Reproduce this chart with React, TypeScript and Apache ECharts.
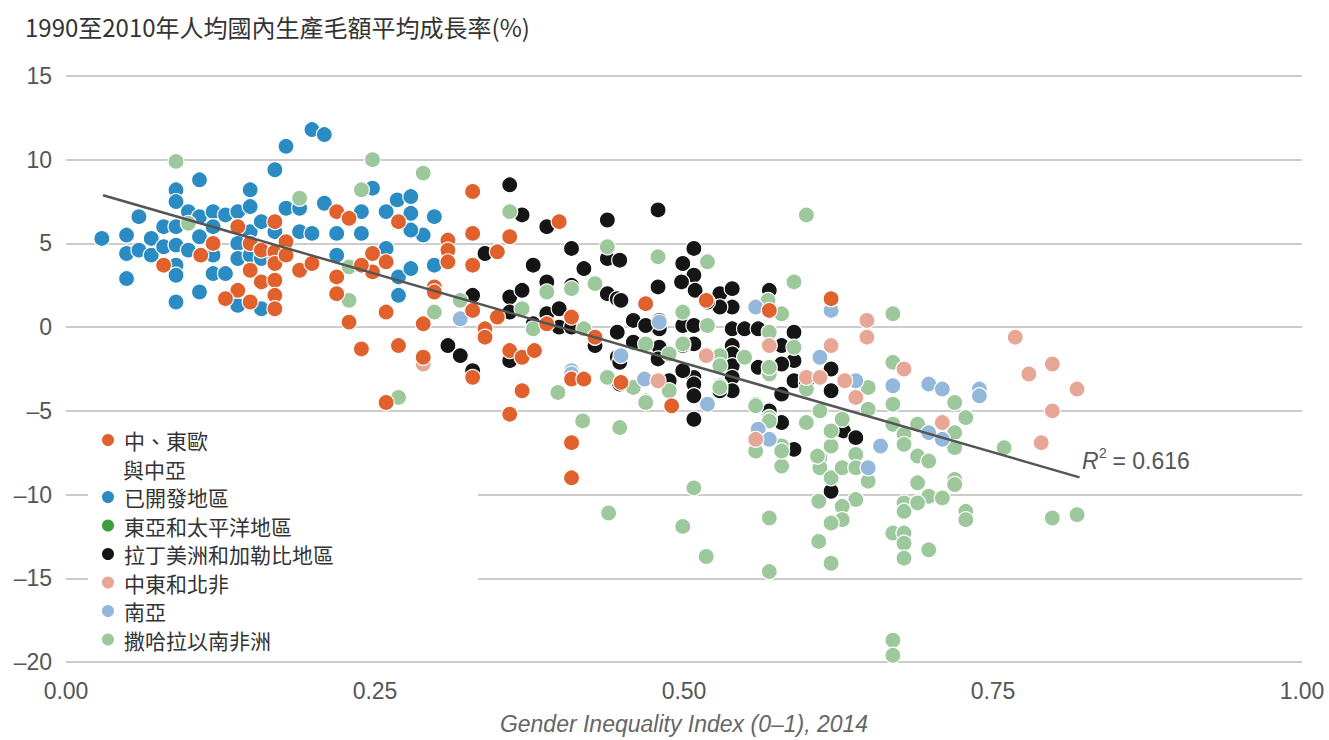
import React, { useEffect, useRef } from "react";
import * as echarts from "echarts";

const TITLE = "1990至2010年人均國內生產毛額平均成長率(%)";
const X_NAME = "Gender Inequality Index (0–1), 2014";
const R2_TEXT = " = 0.616";

const NAME_ECA = "中、東歐與中亞";
const NAME_DEV = "已開發地區";
const NAME_EAP = "東亞和太平洋地區";
const NAME_LAC = "拉丁美洲和加勒比地區";
const NAME_MENA = "中東和北非";
const NAME_SA = "南亞";
const NAME_SSA = "撒哈拉以南非洲";

const X_TICKS = [0, 0.25, 0.5, 0.75, 1];
const Y_TICKS = [-20, -15, -10, -5, 0, 5, 10, 15];

const developed = [
  [0.029, 5.3], [0.049, 5.5], [0.049, 4.4], [0.049, 2.9], [0.059, 6.6], [0.059, 4.6], [0.069, 5.3], [0.069, 4.3],
  [0.079, 6.0], [0.079, 4.8], [0.089, 8.2], [0.089, 7.5], [0.089, 6.0], [0.089, 4.9], [0.089, 3.7], [0.089, 3.1],
  [0.089, 1.5], [0.099, 6.9], [0.099, 4.6], [0.108, 8.8], [0.108, 6.6], [0.108, 5.4], [0.108, 2.1], [0.119, 6.9],
  [0.119, 6.0], [0.119, 4.3], [0.119, 3.2], [0.129, 6.7], [0.129, 3.2], [0.139, 6.9], [0.139, 5.0], [0.139, 4.1],
  [0.139, 1.3], [0.149, 8.2], [0.149, 7.2], [0.149, 5.7], [0.149, 4.3], [0.158, 6.3], [0.158, 4.1], [0.158, 1.1],
  [0.169, 9.4], [0.169, 5.7], [0.169, 4.1], [0.178, 10.8], [0.178, 7.1], [0.189, 7.1], [0.189, 5.7], [0.199, 11.8],
  [0.199, 5.6], [0.209, 11.5], [0.209, 7.4], [0.219, 5.6], [0.219, 4.3], [0.239, 6.9], [0.239, 5.6], [0.248, 8.3],
  [0.268, 7.6], [0.279, 7.8], [0.259, 6.9], [0.279, 6.8], [0.298, 6.6], [0.289, 5.5], [0.279, 5.8], [0.259, 4.7],
  [0.269, 3.0], [0.279, 3.5], [0.298, 3.7], [0.269, 1.9],
];

const eastAsiaPacific: number[][] = [];

const latinAmerica = [
  [0.359, 8.5], [0.369, 6.7], [0.389, 6.0], [0.438, 6.4], [0.479, 7.0], [0.409, 4.7], [0.339, 4.4], [0.378, 3.7],
  [0.389, 2.7], [0.419, 3.5], [0.438, 4.1], [0.448, 4.0], [0.359, 1.8], [0.369, 2.2], [0.329, 1.9], [0.389, 0.8],
  [0.399, 1.1], [0.409, 2.5], [0.359, 0.9], [0.378, 0.2], [0.399, 0.0], [0.409, 0.0], [0.309, -1.1], [0.319, -1.7],
  [0.329, -2.6], [0.359, -2.0], [0.438, 2.0], [0.446, 1.7], [0.446, -0.3], [0.446, -1.8], [0.428, -1.1],
  [0.508, 4.7], [0.499, 3.8], [0.508, 3.1], [0.479, 2.4], [0.449, 1.6], [0.529, 2.0], [0.539, 2.3], [0.539, 1.2],
  [0.529, 1.2], [0.569, 2.2], [0.459, 0.4], [0.48, 0.4], [0.48, -0.1], [0.459, -0.9], [0.48, -1.2], [0.479, -1.9],
  [0.499, 0.1], [0.508, 0.1], [0.508, -1.0], [0.499, -1.1], [0.508, -3.0], [0.508, -3.4], [0.508, -4.1], [0.488, -3.2],
  [0.499, -2.6], [0.448, -2.1], [0.448, -3.4], [0.539, -0.1], [0.539, -1.1], [0.539, -1.6], [0.539, -2.3], [0.539, -3.0],
  [0.539, -3.8], [0.529, -3.8], [0.549, -0.1], [0.56, -0.1], [0.56, -2.4], [0.589, -0.3], [0.589, -2.0], [0.579, -1.1],
  [0.579, -2.2], [0.579, -4.0], [0.589, -3.2], [0.599, -3.3], [0.619, -2.5], [0.619, -3.8], [0.569, -5.0], [0.579, -5.7],
  [0.589, -7.3], [0.508, -5.5], [0.629, -6.2], [0.639, -6.6], [0.619, -9.8], [0.469, 0.1], [0.498, 2.7], [0.509, 2.2],
  [0.519, 1.5],
];

const subSaharan = [
  [0.089, 9.9], [0.248, 10.0], [0.239, 8.2], [0.189, 7.7], [0.099, 6.2], [0.229, 3.6], [0.229, 1.6], [0.289, 9.2],
  [0.359, 6.9], [0.298, 0.9], [0.319, 1.6], [0.369, 1.1], [0.389, 2.1], [0.409, 2.3], [0.428, 2.6], [0.438, 4.8],
  [0.419, -0.1], [0.378, -0.1], [0.438, -3.0], [0.398, -3.9], [0.269, -4.2],
  [0.479, 4.2], [0.519, 3.9], [0.589, 2.7], [0.499, 0.9], [0.519, 0.1], [0.568, 1.6], [0.579, 0.8], [0.469, -1.0],
  [0.499, -1.0], [0.488, -1.6], [0.529, -1.7], [0.529, -2.3], [0.529, -3.5], [0.549, -1.8], [0.589, -1.2], [0.569, -2.8],
  [0.459, -3.6], [0.469, -4.4], [0.488, -3.8], [0.558, -4.6], [0.569, -5.4], [0.599, -3.7], [0.599, -5.7], [0.61, -5.0],
  [0.628, -5.5], [0.649, -3.6], [0.649, -4.9], [0.418, -5.6], [0.448, -6.0], [0.579, -7.1], [0.579, -8.3], [0.61, -7.8],
  [0.61, -8.4], [0.619, -7.1], [0.619, -9.0], [0.628, -8.4], [0.639, -7.6], [0.639, -8.4], [0.649, -9.2], [0.508, -9.6],
  [0.669, 0.8], [0.669, -2.1], [0.669, -4.6], [0.669, -5.8], [0.689, -5.8], [0.678, -6.4], [0.678, -7.0], [0.689, -7.7],
  [0.698, -8.0], [0.719, -4.5], [0.728, -5.4], [0.719, -6.3], [0.719, -7.2], [0.759, -7.2], [0.719, -9.1], [0.719, -9.4],
  [0.728, -11.0], [0.728, -11.5], [0.798, -11.4], [0.818, -11.2], [0.689, -9.3], [0.698, -10.1], [0.709, -10.2],
  [0.678, -10.5], [0.689, -10.5], [0.678, -11.0], [0.669, -12.3], [0.678, -12.3], [0.678, -12.9], [0.678, -13.8],
  [0.698, -13.3], [0.669, -18.7], [0.669, -19.6], [0.639, -10.3], [0.628, -10.7], [0.628, -11.5], [0.619, -11.7],
  [0.609, -10.4], [0.609, -12.8], [0.619, -14.1], [0.569, -11.4], [0.569, -14.6], [0.518, -13.7], [0.499, -11.9],
  [0.439, -11.1], [0.619, -6.2], [0.608, -7.7], [0.569, -5.6], [0.579, -7.4], [0.558, -7.4], [0.558, -4.7],
  [0.569, -2.4], [0.569, -0.3], [0.529, -3.6], [0.469, -4.5], [0.599, 6.7],
];

const southAsia = [
  [0.319, 0.5], [0.409, -2.6], [0.409, -2.8], [0.468, -3.1], [0.449, -1.7], [0.519, -4.6], [0.558, 1.2], [0.56, -6.1],
  [0.569, -6.7], [0.61, -1.8], [0.619, 1.0], [0.639, -3.2], [0.649, -8.4], [0.659, -7.1], [0.669, -3.5], [0.698, -3.4],
  [0.709, -3.7], [0.739, -3.7], [0.739, -4.1], [0.698, -6.3], [0.709, -6.7], [0.48, 0.3],
];

const middleEast = [
  [0.289, -2.2], [0.518, -1.7], [0.479, -3.2], [0.569, -1.1], [0.558, -6.7], [0.599, -3.0], [0.61, -3.0], [0.619, -1.1],
  [0.63, -3.2], [0.639, -4.2], [0.648, 0.4], [0.648, -0.6], [0.678, -2.5], [0.709, -5.7], [0.768, -0.6], [0.779, -2.8],
  [0.798, -2.2], [0.818, -3.7], [0.798, -5.0], [0.789, -6.9],
];

const easternEurope = [
  [0.079, 3.7], [0.109, 4.3], [0.119, 5.0], [0.139, 6.0], [0.149, 5.0], [0.149, 3.4], [0.158, 4.6], [0.158, 2.7],
  [0.169, 6.3], [0.169, 4.5], [0.169, 3.8], [0.169, 2.8], [0.169, 1.9], [0.169, 1.1], [0.178, 5.1], [0.178, 4.3],
  [0.189, 3.4], [0.199, 3.8], [0.139, 2.2], [0.129, 1.7], [0.149, 1.5], [0.219, 6.9], [0.229, 6.5], [0.219, 3.0],
  [0.219, 2.0], [0.229, 0.3], [0.248, 4.4], [0.248, 3.3], [0.239, 3.7], [0.329, 8.1], [0.269, 6.3], [0.309, 5.2],
  [0.309, 4.6], [0.309, 3.9], [0.329, 5.6], [0.329, 3.7], [0.359, 5.4], [0.349, 4.5], [0.399, 6.3], [0.259, 3.9],
  [0.298, 2.4], [0.298, 2.1], [0.259, 0.9], [0.289, 0.2], [0.329, 1.0], [0.349, 0.6], [0.339, -0.1], [0.339, -0.6],
  [0.239, -1.3], [0.269, -1.1], [0.289, -1.8], [0.329, -3.0], [0.359, -1.4], [0.369, -1.8], [0.379, -1.4], [0.389, 0.2],
  [0.409, 0.6], [0.428, -0.6], [0.409, -3.1], [0.419, -3.1], [0.369, -3.8], [0.259, -4.5], [0.359, -5.2], [0.409, -6.9],
  [0.409, -9.0], [0.449, -3.3], [0.469, 1.4], [0.49, -4.7], [0.518, 1.6], [0.569, 1.0], [0.619, 1.7],
];

const trendLine = [
  [0.03, 7.88],
  [0.82, -8.97],
];

const COLORS: Record<string, string> = {
  [NAME_ECA]: "#E0612B",
  [NAME_DEV]: "#2B8CC4",
  [NAME_EAP]: "#3BA03B",
  [NAME_LAC]: "#151515",
  [NAME_MENA]: "#E8A696",
  [NAME_SA]: "#93B8DC",
  [NAME_SSA]: "#9CC89C",
};

const NUM_FONT = "'Liberation Sans', Arial, sans-serif";
const CJK_FONT = "'Noto Sans CJK TC', 'Noto Sans', sans-serif";

function scatter(name: string, data: number[][]) {
  return {
    type: "scatter",
    name,
    data,
    symbol: "circle",
    symbolSize: 16,
    itemStyle: { color: COLORS[name], opacity: 1, borderColor: "#ffffff", borderWidth: 1.2 },
    emphasis: { disabled: true },
  };
}

export default function App() {
  const ref = useRef<HTMLDivElement>(null);
  useEffect(() => {
    if (!ref.current) return;
    const chart = echarts.init(ref.current, undefined, { renderer: "svg" });
    const legendText = {
      fontFamily: CJK_FONT,
      fontSize: 21,
      lineHeight: 21,
      color: "#333333",
      padding: [0, 0, 0, 4],
    };
    chart.setOption({
      animation: false,
      backgroundColor: "#ffffff",
      title: {
        text: TITLE,
        left: 20,
        top: 9,
        textStyle: { fontFamily: CJK_FONT, fontSize: 24, fontWeight: "normal", color: "#333333" },
      },
      grid: { left: 66, top: 76, width: 1236, height: 591, containLabel: false },
      xAxis: {
        type: "value",
        min: X_TICKS[0],
        max: X_TICKS[X_TICKS.length - 1],
        interval: 0.25,
        name: X_NAME,
        nameLocation: "middle",
        nameGap: 50,
        nameTextStyle: { fontFamily: NUM_FONT, fontStyle: "italic", fontSize: 23, color: "#666666" },
        axisLine: { show: false },
        axisTick: { show: false },
        splitLine: { show: false },
        axisLabel: {
          margin: 17,
          fontFamily: NUM_FONT,
          fontSize: 23,
          color: "#555555",
          formatter: (v: number) => v.toFixed(2),
        },
      },
      yAxis: {
        type: "value",
        min: Y_TICKS[0],
        max: Y_TICKS[Y_TICKS.length - 1],
        interval: 5,
        axisLine: { show: false },
        axisTick: { show: false },
        splitLine: { show: true, lineStyle: { color: "#cccccc", width: 2 } },
        axisLabel: {
          margin: 14,
          fontFamily: NUM_FONT,
          fontSize: 23,
          color: "#555555",
          formatter: (v: number) => (v < 0 ? "\u2013" + Math.abs(v) : String(v)),
        },
      },
      legend: [
        {
          data: [NAME_ECA],
          orient: "vertical",
          left: 100,
          top: 429.5,
          padding: 0,
          icon: "circle",
          itemWidth: 14,
          itemHeight: 14,
          selectedMode: false,
          formatter: () => "中、東歐",
          textStyle: legendText,
        },
        {
          data: [NAME_DEV, NAME_EAP, NAME_LAC, NAME_MENA, NAME_SA, NAME_SSA],
          orient: "vertical",
          left: 100,
          top: 486.5,
          padding: 0,
          itemGap: 7.5,
          icon: "circle",
          itemWidth: 14,
          itemHeight: 14,
          selectedMode: false,
          textStyle: legendText,
        },
      ],
      graphic: [
        {
          type: "rect",
          z: 1,
          silent: true,
          shape: { x: 88, y: 424, width: 390, height: 232 },
          style: { fill: "#ffffff" },
        },
        {
          type: "text",
          z: 5,
          x: 123,
          y: 469,
          style: {
            text: "與中亞",
            font: `21px ${CJK_FONT}`,
            fill: "#333333",
            verticalAlign: "middle",
          },
        },
        {
          type: "text",
          z: 5,
          x: 1082,
          y: 461,
          style: {
            text: "R",
            font: `italic 23px ${NUM_FONT}`,
            fill: "#555555",
            verticalAlign: "middle",
          },
        },
        {
          type: "text",
          z: 5,
          x: 1099,
          y: 453,
          style: {
            text: "2",
            font: `14px ${NUM_FONT}`,
            fill: "#555555",
            verticalAlign: "middle",
          },
        },
        {
          type: "text",
          z: 5,
          x: 1106,
          y: 461,
          style: {
            text: R2_TEXT,
            font: `23px ${NUM_FONT}`,
            fill: "#555555",
            verticalAlign: "middle",
          },
        },
      ],
      series: [
        scatter(NAME_DEV, developed),
        scatter(NAME_EAP, eastAsiaPacific),
        scatter(NAME_LAC, latinAmerica),
        scatter(NAME_SSA, subSaharan),
        scatter(NAME_SA, southAsia),
        scatter(NAME_MENA, middleEast),
        scatter(NAME_ECA, easternEurope),
        {
          type: "line",
          name: "trend",
          data: trendLine,
          symbol: "none",
          silent: true,
          lineStyle: { color: "#555555", width: 2.5 },
          z: 5,
        },
      ],
    });
    return () => chart.dispose();
  }, []);
  return (
    <div
      ref={ref}
      style={{ position: "absolute", left: 0, top: 0, width: 1329, height: 740 }}
    />
  );
}
